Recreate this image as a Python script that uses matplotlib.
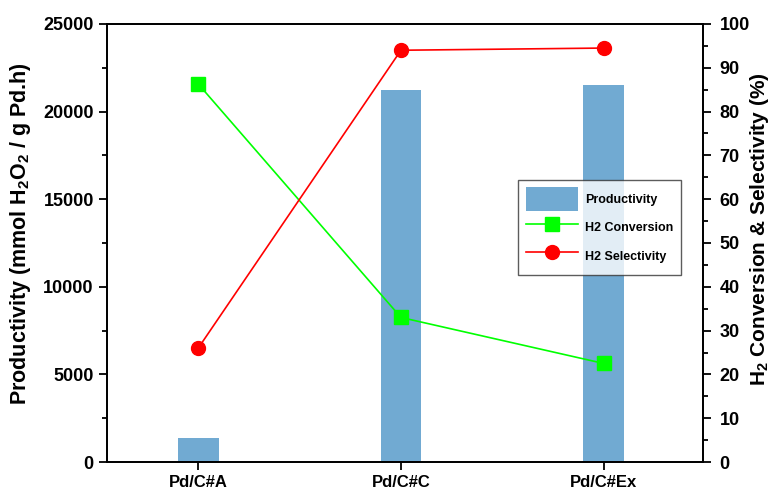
import numpy as np
import matplotlib.pyplot as plt
from matplotlib.ticker import MultipleLocator

plt.rcParams['font.family'] = ['Liberation Sans', 'DejaVu Sans']
plt.rcParams['font.weight'] = 'bold'
plt.rcParams['mathtext.fontset'] = 'custom'
plt.rcParams['mathtext.rm'] = 'Liberation Sans:bold'
plt.rcParams['mathtext.bf'] = 'Liberation Sans:bold'
plt.rcParams['mathtext.default'] = 'bf'

catalysts = ['Pd/C#A', 'Pd/C#C', 'Pd/C#Ex']
productivity = [1350, 21250, 21500]
h2_conversion = [86.3, 33.0, 22.5]
h2_selectivity = [26.0, 94.0, 94.5]

x = np.arange(len(catalysts))

fig = plt.figure(figsize=(7.71, 4.90), dpi=100)
ax = fig.add_axes([0.1388, 0.0571, 0.773, 0.894])
ax2 = ax.twinx()

b = ax.bar(x, productivity, width=0.2, color='#71aad2', label='Productivity')
l1, = ax2.plot(x, h2_conversion, color='#00ff00', marker='s', markersize=9.5,
               lw=1.2, label='H2 Conversion')
l2, = ax2.plot(x, h2_selectivity, color='#ff0000', marker='o', markersize=10,
               lw=1.2, label='H2 Selectivity')

ax.set_xlim(-0.45, 2.49)
ax.set_ylim(0, 25000)
ax2.set_ylim(0, 100)
ax.set_xticks(x)
ax.set_xticklabels(catalysts, fontsize=12, fontweight='bold')

ax.yaxis.set_major_locator(MultipleLocator(5000))
ax.yaxis.set_minor_locator(MultipleLocator(2500))
ax2.yaxis.set_major_locator(MultipleLocator(10))
ax2.yaxis.set_minor_locator(MultipleLocator(5))

for a in (ax, ax2):
    for s in a.spines.values():
        s.set_linewidth(1.3)
    a.tick_params(which='major', length=6, width=1.3)
    a.tick_params(which='minor', length=3.5, width=1.3)
    a.tick_params(axis='y', labelsize=13)
    for lab in a.get_yticklabels():
        lab.set_fontweight('bold')
ax2.tick_params(axis='y', which='major', pad=6)

ax.set_ylabel('Productivity (mmol H$_2$O$_2$ / g Pd.h)',
              fontsize=15.5, fontweight='bold')
ax2.set_ylabel('H$_2$ Conversion & Selectivity (%)',
               fontsize=15, fontweight='bold')
ax.yaxis.set_label_coords(-0.124, 0.522)
ax2.yaxis.set_label_coords(1.0755, 0.532)

leg = ax2.legend([b, l1, l2], ['Productivity', 'H2 Conversion', 'H2 Selectivity'],
                 loc='upper left', bbox_to_anchor=(0.6896, 0.6438),
                 fontsize=9, frameon=True, fancybox=False, edgecolor='#333333',
                 handlelength=4.2, handleheight=2.5, handletextpad=0.55,
                 borderpad=0.6, labelspacing=0.4, borderaxespad=0)
leg.get_frame().set_linewidth(1.0)
for t in leg.get_texts():
    t.set_fontweight('bold')

fig.savefig('out.png', dpi=100)
